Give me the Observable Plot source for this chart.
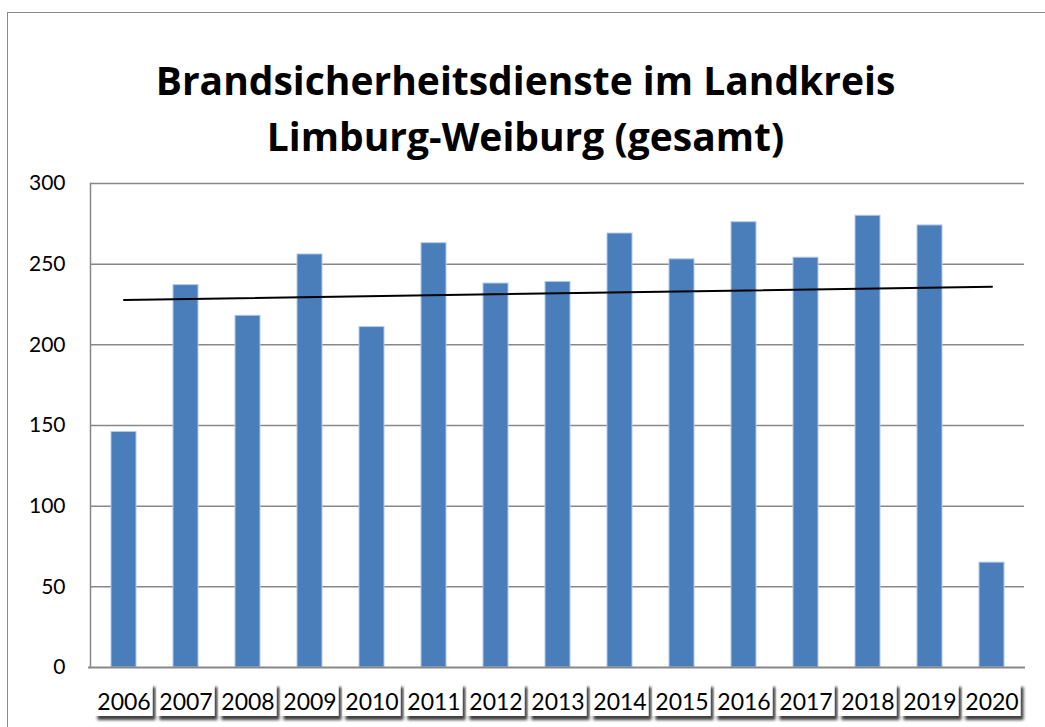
<!DOCTYPE html>
<html>
<head>
<meta charset="utf-8">
<script src="https://cdn.jsdelivr.net/npm/d3@7"></script>
<script src="https://cdn.jsdelivr.net/npm/@observablehq/plot@0.6"></script>
<style>
  html, body { margin: 0; padding: 0; background: #fff; }
  #wrap { position: relative; width: 1045px; height: 727px; overflow: hidden; }
  #border { position: absolute; left: 7px; top: 12px; width: 1100px; height: 800px; border: 1.5px solid #8a8a8a; box-sizing: border-box; }
  #chart { position: absolute; left: 0; top: 0; }
</style>
</head>
<body>
<div id="wrap"><div id="border"></div><div id="chart"></div></div>
<script>
const years = ["2006","2007","2008","2009","2010","2011","2012","2013","2014","2015","2016","2017","2018","2019","2020"];
const values = [146, 237, 218, 256, 211, 263, 238, 239, 269, 253, 276, 254, 280, 274, 65];
const yTicks = [0, 50, 100, 150, 200, 250, 300];
const titleLines = ["Brandsicherheitsdienste im Landkreis", "Limburg-Weiburg (gesamt)"];

const data = years.map((year, i) => ({year, value: values[i]}));

// linear trend line (least squares over category index), drawn from first to last category
const n = values.length;
const mx = (n - 1) / 2;
const my = d3.mean(values);
const slope = d3.sum(values, (v, i) => (i - mx) * (v - my)) / d3.sum(values, (v, i) => (i - mx) ** 2);
const trend = [0, n - 1].map(i => ({year: years[i], value: my + slope * (i - mx)}));

const font = "Lato, 'Open Sans', sans-serif";
const titleFont = "'Open Sans', Lato, sans-serif";

const chart = Plot.plot({
  width: 1045,
  height: 727,
  marginLeft: 90,
  marginRight: 21,
  marginTop: 183,
  marginBottom: 60,
  style: {fontFamily: font, color: "#000", background: "transparent", overflow: "visible"},
  x: {domain: years, paddingInner: 0.6, paddingOuter: 0.3, axis: null, label: null},
  y: {domain: [0, 300], axis: null, label: null},
  marks: [
    Plot.ruleY(yTicks.filter(t => t > 0), {stroke: "#888", strokeWidth: 1.5, strokeOpacity: 1}),
    Plot.frame({anchor: "left", stroke: "#888", strokeWidth: 1.5, strokeOpacity: 1}),
    Plot.axisY({ticks: yTicks, tickSize: 0, tickPadding: 25, fontSize: 21, label: null, tickFormat: d => String(d)}),
    Plot.barY(data, {x: "year", y: "value", fill: "#4a7ebb", stroke: "#b3c8e4", strokeWidth: 1}),
    Plot.ruleY([0], {stroke: "#888", strokeWidth: 2, strokeOpacity: 1, insetLeft: -2, insetRight: -1}),
    Plot.line(trend, {x: "year", y: "value", stroke: "#000", strokeWidth: 2}),
    Plot.axisX({tickSize: 0, tickPadding: 26, fontSize: 23, lineAnchor: "top", label: null}),
    Plot.text([titleLines[0]], {text: d => d, frameAnchor: "top", dx: -32, dy: -101, lineAnchor: "middle", fontSize: 39, fontWeight: "bold", fontFamily: titleFont}),
    Plot.text([titleLines[1]], {text: d => d, frameAnchor: "top", dx: -32, dy: -45, lineAnchor: "middle", fontSize: 39, fontWeight: "bold", fontFamily: titleFont})
  ]
});

// label boxes with drop shadow behind the category labels
const svg = d3.select(chart);
const defs = svg.insert("defs", ":first-child");
const f = defs.append("filter").attr("id", "lblshadow").attr("x", "-20%").attr("y", "-20%").attr("width", "150%").attr("height", "160%");
f.append("feDropShadow").attr("dx", 3).attr("dy", 4).attr("stdDeviation", 1.8).attr("flood-color", "#000").attr("flood-opacity", 0.75);
const xs = chart.scale("x");
const bw = xs.bandwidth;
const axisG = svg.select('g[aria-label="x-axis tick label"]').node();
const boxG = document.createElementNS("http://www.w3.org/2000/svg", "g");
axisG.parentNode.insertBefore(boxG, axisG);
years.forEach(yr => {
  const cx = xs.apply(yr) + bw / 2;
  d3.select(boxG).append("rect")
    .attr("x", cx - 29).attr("y", 683).attr("width", 58).attr("height", 33)
    .attr("fill", "#fff").attr("filter", "url(#lblshadow)");
});

document.getElementById("chart").appendChild(chart);
</script>
</body>
</html>
